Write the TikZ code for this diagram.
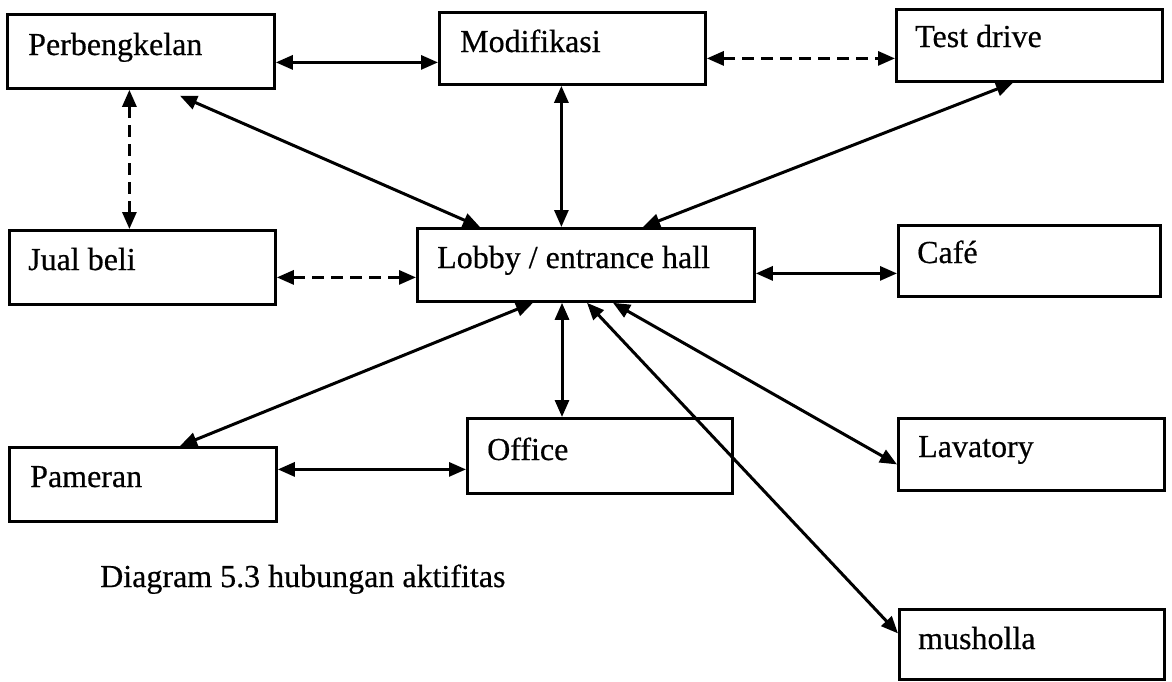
\documentclass[tikz,border=0pt]{standalone}
\usepackage{fontspec}
\setmainfont[FakeBold=0.5]{Liberation Serif}
\usetikzlibrary{arrows.meta}
\begin{document}
\begin{tikzpicture}[x=1pt,y=-1pt,
  box/.style={draw, line width=2.8pt, inner sep=0pt, anchor=north west},
  lbl/.style={anchor=base west, inner sep=0pt, font=\fontsize{32}{36}\selectfont},
  link/.style={line width=3pt, {Triangle[length=17pt,width=14pt]}-{Triangle[length=17pt,width=14pt]}},
  dlink/.style={link, dash pattern=on 12pt off 7pt}]
\useasboundingbox (0,0) rectangle (1172,681);

% rooms
\node[box, minimum width=267pt, minimum height=74pt] (perb)   at (6,13)   {};
\node[box, minimum width=266pt, minimum height=72pt] (modif)  at (438,11) {};
\node[box, minimum width=266pt, minimum height=72pt] (test)   at (895,8)  {};
\node[box, minimum width=266pt, minimum height=74pt] (jual)   at (8,229)  {};
\node[box, minimum width=337pt, minimum height=73pt] (lobby)  at (416,227) {};
\node[box, minimum width=262pt, minimum height=71pt] (cafe)   at (897,224) {};
\node[box, minimum width=267pt, minimum height=74pt] (pam)    at (8,446)  {};
\node[box, minimum width=265pt, minimum height=75pt] (office) at (466,417) {};
\node[box, minimum width=266pt, minimum height=72pt] (lav)    at (897,417) {};
\node[box, minimum width=265pt, minimum height=70pt] (mus)    at (898,608) {};

% room names
\node[lbl] (perbT)   at (28,55)   {Perbengkelan};
\node[lbl] (modifT)  at (460,52)  {Modifikasi};
\node[lbl] (testT)   at (915,47)  {Test drive};
\node[lbl] (jualT)   at (28,270)  {Jual beli};
\node[lbl] (lobbyT)  at (437,268) {Lobby / entrance hall};
\node[lbl] (cafeT)   at (917,263) {Café};
\node[lbl] (pamT)    at (30,487)  {Pameran};
\node[lbl] (officeT) at (487,460) {Office};
\node[lbl] (lavT)    at (918,457) {Lavatory};
\node[lbl] (musT)    at (918,649) {musholla};

% caption
\node[lbl] (cap) at (100,587) {Diagram 5.3 hubungan aktifitas};

% relations
\draw[link]  ([yshift=-11pt]perb.east) -- ([yshift=-14pt]modif.west);
\draw[dlink] ([yshift=-10pt]modif.east) -- ([yshift=-13pt]test.west);
\draw[dlink] ([xshift=-11.5pt]perb.south) -- ([xshift=-13pt]jual.north);
\draw[link]  ([xshift=174pt,yshift=-6pt]perb.south west) -- ([xshift=64pt]lobby.north west);
\draw[link]  ([xshift=-11pt]modif.south) -- ([xshift=-24.5pt]lobby.north);
\draw[link]  ([xshift=118pt]test.south west) -- ([xshift=227pt]lobby.north west);
\draw[dlink] ([yshift=-10pt]jual.east) -- ([yshift=-12.5pt]lobby.west);
\draw[link]  ([yshift=-8.5pt]lobby.east) -- ([yshift=-12.5pt]cafe.west);
\draw[link]  ([xshift=117pt]lobby.south west) -- ([xshift=172pt]pam.north west);
\draw[link]  ([xshift=146pt]lobby.south west) -- ([xshift=96pt]office.north west);
\draw[link]  ([xshift=197pt]lobby.south west) -- ([yshift=-10pt]lav.west);
\draw[link]  ([xshift=171pt]lobby.south west) -- ([yshift=11pt]mus.west);
\draw[link]  ([yshift=15pt]pam.east) -- ([yshift=-13.5pt]office.west);
\end{tikzpicture}
\end{document}
